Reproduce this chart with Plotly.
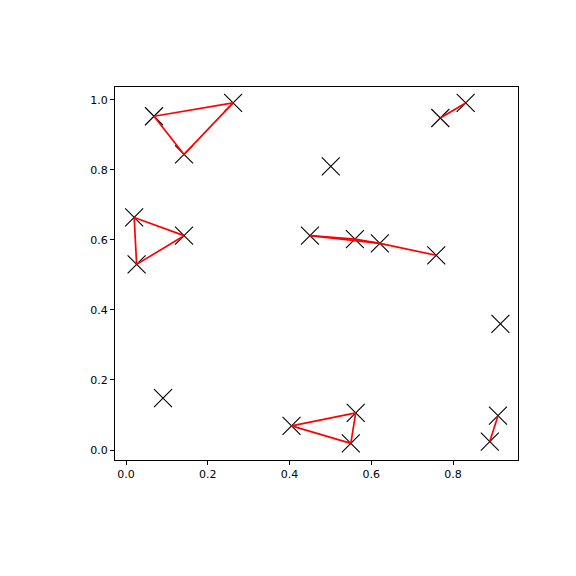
import plotly.graph_objects as go

# point coordinates
xs = [0.0685, 0.262, 0.142, 0.769, 0.831, 0.020, 0.142, 0.026, 0.450, 0.560,
      0.621, 0.759, 0.405, 0.562, 0.550, 0.910, 0.890, 0.501, 0.916, 0.0905]
ys = [0.953, 0.991, 0.844, 0.948, 0.991, 0.664, 0.612, 0.530, 0.612, 0.602,
      0.590, 0.556, 0.069, 0.106, 0.019, 0.098, 0.024, 0.810, 0.360, 0.148]

# connections between points (index pairs)
edge_from = [0, 1, 2, 3, 5, 6, 7, 8, 9, 8, 10, 12, 13, 14, 15]
edge_to   = [1, 2, 0, 4, 6, 7, 5, 9, 10, 10, 11, 13, 14, 12, 16]

x_ticks = [0.0, 0.2, 0.4, 0.6, 0.8]
y_ticks = [0.0, 0.2, 0.4, 0.6, 0.8, 1.0]

lx, ly = [], []
for a, b in zip(edge_from, edge_to):
    lx += [xs[a], xs[b], None]
    ly += [ys[a], ys[b], None]

fig = go.Figure()
fig.add_trace(go.Scatter(x=xs, y=ys, mode="markers",
                         marker=dict(symbol="x-thin", size=18, color="black",
                                     line=dict(color="black", width=1.1)),
                         showlegend=False, hoverinfo="skip"))
fig.add_trace(go.Scatter(x=lx, y=ly, mode="lines",
                         line=dict(color="red", width=1.7),
                         showlegend=False, hoverinfo="skip"))

axis_common = dict(showgrid=False, zeroline=False, showline=True, linecolor="black",
                   linewidth=1, mirror=True, ticks="outside", ticklen=4, tickwidth=1,
                   tickcolor="black", tickfont=dict(family="DejaVu Sans", size=11, color="black"))
fig.update_xaxes(range=[-0.0269, 0.959], tickvals=x_ticks,
                 ticktext=[f"{v:.1f}" for v in x_ticks], **axis_common)
fig.update_yaxes(range=[-0.0285, 1.0365], tickvals=y_ticks,
                 ticktext=[f"{v:.1f}" for v in y_ticks], **axis_common)
fig.update_layout(width=576, height=576, plot_bgcolor="white", paper_bgcolor="white",
                  margin=dict(l=107, r=66, t=79, b=124, pad=0))
fig.write_html("out.html")
